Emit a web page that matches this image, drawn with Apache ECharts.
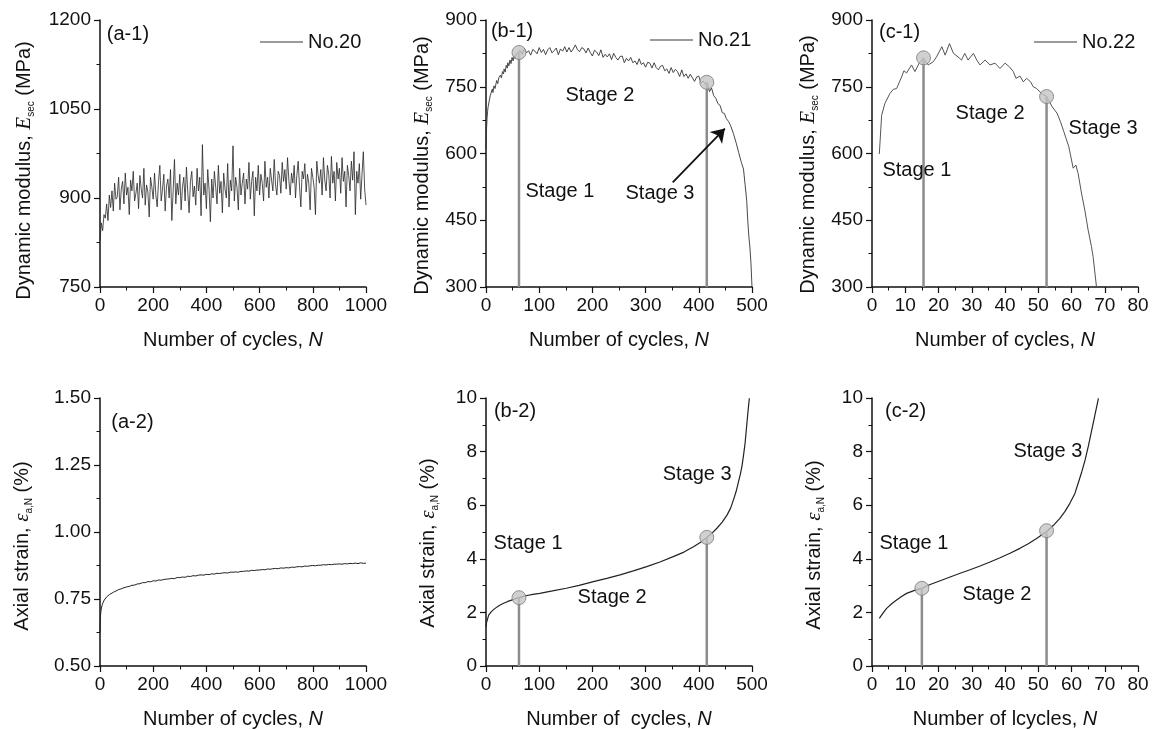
<!DOCTYPE html>
<html><head><meta charset="utf-8">
<script src="https://cdn.jsdelivr.net/npm/echarts@6/dist/echarts.min.js"></script>
<style>html,body{margin:0;padding:0;background:#fff}#c{width:1153px;height:730px}</style>
</head><body><div id="c"></div>
<script>
// ---------- DATA ----------
// (a-1) No.20 dynamic modulus, sampled every 5 cycles from N = 0
const a1Step = 5;
const a1Values = [828,858,845,872,866,890,862,905,884,912,878,
925,898,902,935,880,915,928,890,942,905,
918,872,930,912,945,895,908,925,882,938,
915,900,950,888,922,910,868,935,918,898,
942,905,885,928,955,895,915,940,878,920,
932,900,948,862,912,965,890,925,905,940,
880,918,935,895,952,910,875,928,945,902,
920,888,950,912,935,870,990,905,925,882,
948,915,860,932,900,945,918,890,955,908,
928,875,942,915,900,958,885,930,912,988,
895,935,918,880,950,905,925,942,890,932,
915,960,898,928,945,870,935,912,955,905,
940,925,895,962,918,935,900,950,930,912,
965,922,905,945,938,908,960,928,948,915,
968,930,905,942,925,955,900,938,962,920,
885,945,932,958,910,940,925,880,950,935,
918,872,962,938,925,948,905,968,930,912,
955,940,900,970,925,945,895,960,932,950,
908,968,928,945,885,955,938,912,962,930,
978,872,945,925,958,898,940,978,915,888];
// (b-1) No.21 dynamic modulus [N, MPa]
const b1Points = [[0,610],[1,655],[2,680],[3,695],[4,705],[6,718],[8,730],[10,738],[12,745],[13,737],[15,752],[17,746],[19,758],[20,764],[22,757],[24,770],[26,766],[27,776],[29,770],[31,784],[33,779],[34,790],[36,783],[38,798],[40,792],[41,804],[43,797],[45,810],[47,802],[49,816],[51,808],[53,820],[55,813],[57,824],[60,826],
[64,832],[68,823],[72,836],[76,826],[80,831],[84,821],[88,834],[92,830],[96,824],[100,838],[104,827],[108,834],[112,822],[116,833],[120,838],[124,826],[128,831],[132,837],[136,822],[140,835],[144,830],[148,840],[152,828],[156,838],[160,828],[164,835],[168,844],[172,833],[176,829],[180,838],[184,835],[188,826],[192,837],[196,827],
[200,819],[204,832],[208,828],[212,820],[216,833],[220,816],[224,823],[228,817],[232,824],[236,811],[240,825],[244,816],[248,810],[252,818],[256,819],[260,804],[264,814],[268,808],[272,816],[276,804],[280,808],[284,800],[288,813],[292,800],[296,804],
[300,794],[304,805],[308,803],[312,792],[316,804],[320,793],[324,788],[328,796],[332,798],[336,786],[340,790],[344,780],[348,793],[352,782],[356,789],[360,784],[364,773],[368,788],[372,773],[376,779],[380,769],[384,778],[388,770],[392,762],[396,772],
[400,774],[404,758],[408,763],[412,756],[416,760],[420,739],[424,747],[428,730],[432,724],[436,712],[440,708],[444,692],[448,690],[452,678],[456,672],[460,662],[465,645],[470,625],[475,602],[480,580],[484,565],[487,530],[490,495],[492,450],[494,415],[496,390],[498,355],[500,300]];
// (c-1) No.22 dynamic modulus [N, MPa]
const c1Points = [[2.2,599],[2.9,686],[3.9,713],[5.4,735],[6.4,744],[7.4,746],[8.9,772],[9.6,786],[10.4,781],[11.9,799],[12.9,784],[14.2,803],[15.4,814],[16.9,799],[18.4,806],[19.4,817],[21.0,840],[22.0,821],[23.3,847],[24.5,825],[25.9,817],[26.9,810],[27.9,825],[28.9,810],[30.5,825],[31.5,810],[32.5,799],[34.0,810],[35.5,799],[37.0,803],[38.5,791],[40.0,803],[41.3,795],[42.5,784],[43.3,769],[44.5,774],[45.5,761],[46.5,769],[47.7,761],[48.5,750],[49.5,746],[51.0,735],[52.5,728],[54.2,705],[55.7,690],[56.7,671],[57.7,649],[58.2,645],[59.2,615],[60.5,567],[61.3,574],[62.0,555],[63.0,511],[64.0,473],[65.0,428],[66.0,391],[66.5,368],[67.5,301]];
// (a-2) axial strain [N, %]
const a2Points = [[0,0.625],[1,0.665],[2,0.690],[4,0.708],[6,0.720],[9,0.730],[12,0.738],[16,0.746],[20,0.752],[25,0.758],[30,0.762],[36,0.767],[42,0.771],[50,0.775],[60,0.780],[70,0.785],[80,0.788],[90,0.792],[100,0.795],[110,0.797],[120,0.801],[130,0.802],[140,0.806],[150,0.807],[160,0.811],[170,0.811],[180,0.815],[190,0.814],[200,0.818],[210,0.817],[220,0.821],[230,0.820],[240,0.823],[250,0.824],[260,0.825],[270,0.827],[280,0.826],[290,0.830],[300,0.830],[310,0.832],[320,0.831],[330,0.835],[340,0.834],[350,0.837],[360,0.836],[370,0.839],[380,0.840],[390,0.839],[400,0.842],[410,0.841],[420,0.844],[430,0.843],[440,0.846],[450,0.845],[460,0.847],[470,0.848],[480,0.847],[490,0.850],[500,0.850],[510,0.851],[520,0.850],[530,0.853],[540,0.853],[550,0.855],[560,0.854],[570,0.857],[580,0.856],[590,0.858],[600,0.858],[610,0.860],[620,0.859],[630,0.862],[640,0.861],[650,0.863],[660,0.864],[670,0.863],[680,0.866],[690,0.865],[700,0.867],[710,0.866],[720,0.869],[730,0.868],[740,0.870],[750,0.871],[760,0.870],[770,0.873],[780,0.872],[790,0.874],[800,0.875],[810,0.874],[820,0.876],[830,0.876],[840,0.878],[850,0.877],[860,0.879],[870,0.878],[880,0.880],[890,0.880],[900,0.881],[910,0.880],[920,0.882],[930,0.881],[940,0.883],[950,0.882],[960,0.884],[970,0.882],[980,0.885],[990,0.883],[1000,0.884]];
// (b-2) axial strain [N, %]
const b2Points = [[0,1.47],[1,1.62],[2.5,1.72],[5,1.90],[10,2.03],[17,2.15],[25,2.26],[33,2.34],[40,2.40],[48,2.46],[55,2.51],[62,2.55],[75,2.62],[88,2.67],[101,2.71],[125,2.80],[151,2.90],[175,3.01],[202,3.15],[227,3.27],[252,3.40],[277,3.55],[302,3.71],[327,3.88],[352,4.08],[372,4.25],[390,4.45],[405,4.64],[415,4.80],[425,4.96],[434,5.14],[444,5.37],[453,5.63],[460,5.90],[465,6.19],[470,6.50],[474,6.82],[478,7.15],[481,7.44],[484,7.85],[487,8.31],[489,8.75],[491,9.18],[493,9.60],[495,9.99]];
// (c-2) axial strain [N, %]
const c2Points = [[2.2,1.78],[3.3,1.97],[4.4,2.15],[6,2.33],[7.4,2.46],[9,2.60],[10.4,2.71],[12.8,2.82],[15,2.90],[17.5,3.04],[20.5,3.18],[23.5,3.32],[26.5,3.46],[29.5,3.59],[32.5,3.73],[35.5,3.88],[38.5,4.04],[41.5,4.21],[44.5,4.39],[47,4.56],[49.5,4.76],[52.5,5.02],[54.5,5.24],[56.5,5.51],[58,5.76],[59.5,6.07],[61,6.43],[62,6.82],[63.1,7.25],[64.1,7.69],[65.1,8.22],[66.1,8.81],[67.1,9.40],[68.1,9.99]];
// stage transition points [N, value]
const b1Stages = [[62,827],[415,760]];
const c1Stages = [[15.5,815],[52.5,728]];
const b2Stages = [[62,2.55],[415,4.80]];
const c2Stages = [[15,2.90],[52.5,5.05]];
// text annotations: [panel, text, N, value]
const annotations = [
  [0,'(a-1)',105,1175],
  [1,'(b-1)',49,875],[1,'Stage 1',139,515],[1,'Stage 2',214,730],[1,'Stage 3',327,510],
  [2,'(c-1)',8.3,871],[2,'Stage 1',13.5,561],[2,'Stage 2',35.5,691],[2,'Stage 3',69.5,657],
  [3,'(a-2)',122,1.41],
  [4,'(b-2)',54.5,9.48],[4,'Stage 1',79,4.59],[4,'Stage 2',237,2.54],[4,'Stage 3',397,7.13],
  [5,'(c-2)',10.1,9.48],[5,'Stage 1',12.6,4.59],[5,'Stage 2',37.6,2.65],[5,'Stage 3',52.9,8.02]
];
const b1Arrow = [[351,535],[449,656]];
const legendNames = ['No.20','No.21','No.22'];
const xNames = ['Number of cycles, {it|N}','Number of cycles, {it|N}','Number of cycles, {it|N}',
                'Number of cycles, {it|N}','Number of  cycles, {it|N}','Number of lcycles, {it|N}'];

// ---------- LAYOUT ----------
const FONT = 'Liberation Sans, Arial, sans-serif';
const SERIF = 'Liberation Serif, Times New Roman, serif';
const cols = [100, 486, 872];
const rows = [20, 398];
const W = 266, H = 268;
const grids = [];
for (let r = 0; r < 2; r++) for (let c = 0; c < 3; c++)
  grids.push({left: cols[c], top: rows[r], width: W, height: H - (r === 0 ? 1 : 0), containLabel: false});

const xRanges = [[0,1000,200],[0,500,100],[0,80,10],[0,1000,200],[0,500,100],[0,80,10]];
const yRanges = [[750,1200,150],[300,900,150],[300,900,150],[0.5,1.5,0.25],[0,10,2],[0,10,2]];
const yNameGap = [64, 52, 52, 66, 46, 46];
const yNamePad = [34, 24, 22, 28, 22, 26];

const richBase = {
  it: {fontFamily: SERIF, fontStyle: 'italic', fontSize: 21, color: '#111', lineHeight: 24, verticalAlign: 'middle'},
  t: {fontFamily: FONT, fontSize: 20, color: '#111', lineHeight: 24, verticalAlign: 'middle'},
  sub: {fontFamily: FONT, fontSize: 10, color: '#111', verticalAlign: 'bottom'}
};
const yNames = [
  '{t|Dynamic modulus, }{it|E}{sub|sec}{t| (MPa)}',
  '{t|Dynamic modulus, }{it|E}{sub|sec}{t| (MPa)}',
  '{t|Dynamic modulus, }{it|E}{sub|sec}{t| (MPa)}',
  '{t|Axial strain, }{it|ε}{sub|a,N}{t| (%)}',
  '{t|Axial strain, }{it|ε}{sub|a,N}{t| (%)}',
  '{t|Axial strain, }{it|ε}{sub|a,N}{t| (%)}'
];

const axisCommon = {
  axisLine: {show: true, onZero: false, lineStyle: {color: '#111', width: 1.5}},
  axisTick: {show: true, inside: false, length: 6, lineStyle: {color: '#111', width: 1.2}},
  minorTick: {show: true, splitNumber: 2, length: 3.5, lineStyle: {color: '#111', width: 1}},
  splitLine: {show: false},
  axisLabel: {color: '#111', fontSize: 19, fontFamily: FONT, margin: 9, showMinLabel: true, showMaxLabel: true}
};

const xAxes = xRanges.map((r, i) => {
  const ax = Object.assign({}, JSON.parse(JSON.stringify(axisCommon)), {
    type: 'value', gridIndex: i, min: r[0], max: r[1], interval: r[2],
    name: xNames[i], nameLocation: 'middle', nameGap: 43,
    nameTextStyle: {fontFamily: FONT, fontSize: 20, color: '#111', rich: {it: {fontFamily: FONT, fontStyle: 'italic', fontSize: 20, color: '#111'}}}
  });
  ax.axisLabel.formatter = v => String(v);
  return ax;
});
const yAxes = yRanges.map((r, i) => {
  const ax = Object.assign({}, JSON.parse(JSON.stringify(axisCommon)), {
    type: 'value', gridIndex: i, min: r[0], max: r[1], interval: r[2],
    name: yNames[i], nameLocation: 'middle', nameGap: yNameGap[i],
    nameTextStyle: {rich: richBase, padding: [0, yNamePad[i], 0, 0]}
  });
  ax.axisLabel.formatter = (i === 3) ? (v => v.toFixed(2)) : (v => String(v));
  return ax;
});

// ---------- SERIES ----------
const series = [];
const a1Data = a1Values.map((v, i) => [i * a1Step, v]);
const curves = [
  [0, a1Data, legendNames[0], '#262626', 0.8],
  [1, b1Points, legendNames[1], '#333', 0.9],
  [2, c1Points, legendNames[2], '#555', 1],
  [3, a2Points, 'a2', '#222', 1],
  [4, b2Points, 'b2', '#222', 1.2],
  [5, c2Points, 'c2', '#222', 1.2]
];
curves.forEach(([g, data, name, color, w]) => {
  series.push({type: 'line', name, xAxisIndex: g, yAxisIndex: g, data, showSymbol: false, symbol: 'none',
    lineStyle: {color, width: w}, itemStyle: {color}, z: 3, clip: false});
});
// arrow in (b-1)
series.push({type: 'line', xAxisIndex: 1, yAxisIndex: 1, data: [], silent: true,
  markLine: {silent: true, symbol: ['none', 'arrow'], symbolSize: 13, label: {show: false},
    lineStyle: {color: '#111', width: 1.8, type: 'solid'},
    emphasis: {disabled: true},
    data: [[{coord: b1Arrow[0]}, {coord: b1Arrow[1]}]]}});
// stage transitions: vertical drop lines + circles
const stageSets = [[1, b1Stages, 300], [2, c1Stages, 300], [4, b2Stages, 0], [5, c2Stages, 0]];
stageSets.forEach(([g, pts, base]) => {
  pts.forEach(p => {
    series.push({type: 'line', xAxisIndex: g, yAxisIndex: g, data: [[p[0], base], p], symbol: 'none',
      lineStyle: {color: '#8c8c8c', width: 2.5}, z: 4, silent: true});
  });
  series.push({type: 'scatter', xAxisIndex: g, yAxisIndex: g, data: pts, symbolSize: 14,
    itemStyle: {color: '#c4c4c4', borderColor: '#7a7a7a', borderWidth: 1}, z: 5, silent: true});
});
// annotations
for (let g = 0; g < 6; g++) {
  const items = annotations.filter(a => a[0] === g).map(a => ({value: [a[2], a[3]], name: a[1]}));
  series.push({type: 'scatter', xAxisIndex: g, yAxisIndex: g, data: items, symbolSize: 1,
    itemStyle: {color: 'rgba(0,0,0,0)'}, silent: true, z: 6, clip: false,
    label: {show: true, position: 'inside', formatter: p => p.name, color: '#111', fontSize: 20,
      fontFamily: FONT, textBorderWidth: 0, opacity: 1}});
}

const legendPos = [[255, 27], [645, 25], [1029, 27]];
const legends = legendNames.map((n, i) => ({
  data: [n], left: legendPos[i][0], top: legendPos[i][1], itemWidth: 43, itemHeight: 1.5, itemGap: 0,
  icon: 'rect',
  textStyle: {fontSize: 20, fontFamily: FONT, color: '#111'},
  itemStyle: {color: '#7a7a7a', borderWidth: 0}
}));

const chart = echarts.init(document.getElementById('c'), null, {renderer: 'canvas'});
chart.setOption({
  animation: false,
  backgroundColor: '#fff',
  grid: grids,
  xAxis: xAxes,
  yAxis: yAxes,
  legend: legends,
  series
});
</script></body></html>
